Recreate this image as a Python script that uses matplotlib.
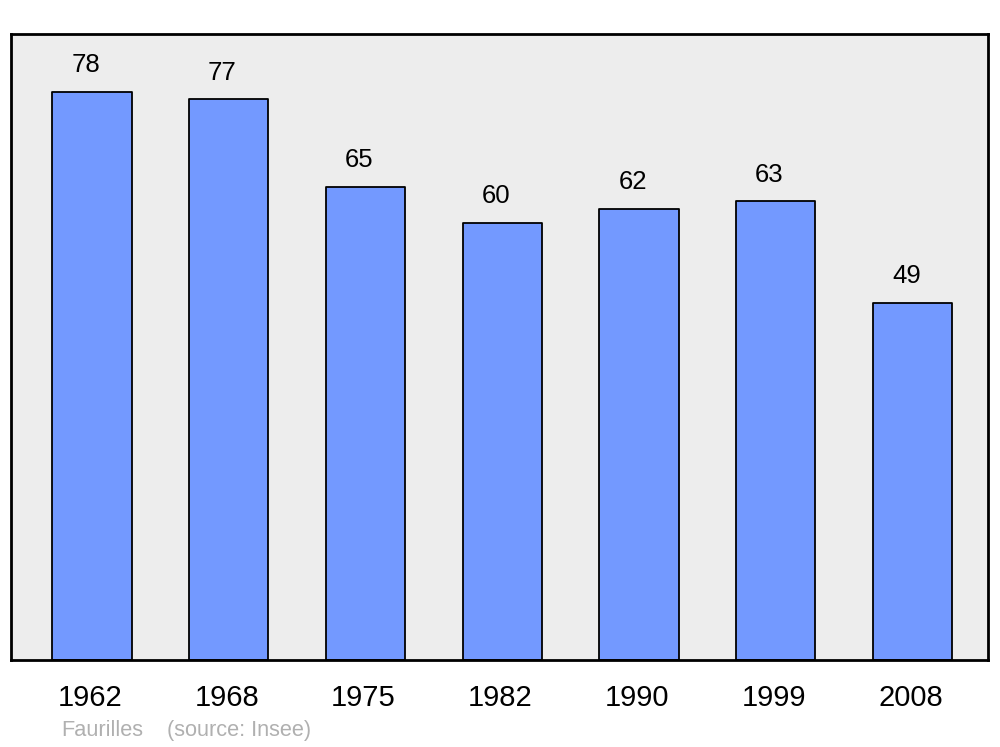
import matplotlib.pyplot as plt
from matplotlib.transforms import ScaledTranslation

years = ["1962", "1968", "1975", "1982", "1990", "1999", "2008"]
population = [78, 77, 65, 60, 62, 63, 49]

plt.rcParams['font.family'] = ['Liberation Sans', 'DejaVu Sans']

fig = plt.figure(figsize=(10, 7.47), dpi=100)
ax = fig.add_axes([0.011, 0.1165, 0.977, 0.838])
ax.set_facecolor('#ededed')

x = list(range(len(years)))
bars = ax.bar(x, population, width=0.58, color='#7399ff', edgecolor='black',
              linewidth=1.3, zorder=2)
for b in bars:
    b.set_joinstyle('round')

for xi, v in zip(x, population):
    ax.annotate(str(v), (xi, v), xytext=(-4.5, 14.3), textcoords='offset points',
                ha='center', va='baseline', fontsize=18.5)

ax.set_xlim(-0.592, 6.552)
ax.set_ylim(0, 86)
ax.set_xticks(x)
ax.set_xticklabels(years, fontsize=21)
ax.tick_params(axis='x', length=0, pad=17.5)
# year labels sit a touch left of the bar centres
shift = ScaledTranslation(-2 / 100, 0, fig.dpi_scale_trans)
for lbl in ax.get_xticklabels():
    lbl.set_transform(lbl.get_transform() + shift)
ax.set_yticks([])
for s in ax.spines.values():
    s.set_linewidth(2)
    s.set_joinstyle('round')

fig.text(0.061, 0.0145, "Faurilles", color='#b0b0b0', fontsize=15.7, va='baseline')
fig.text(0.167, 0.0145, "(source: Insee)", color='#b0b0b0', fontsize=15.7, va='baseline')

fig.savefig('out.png', dpi=100)
